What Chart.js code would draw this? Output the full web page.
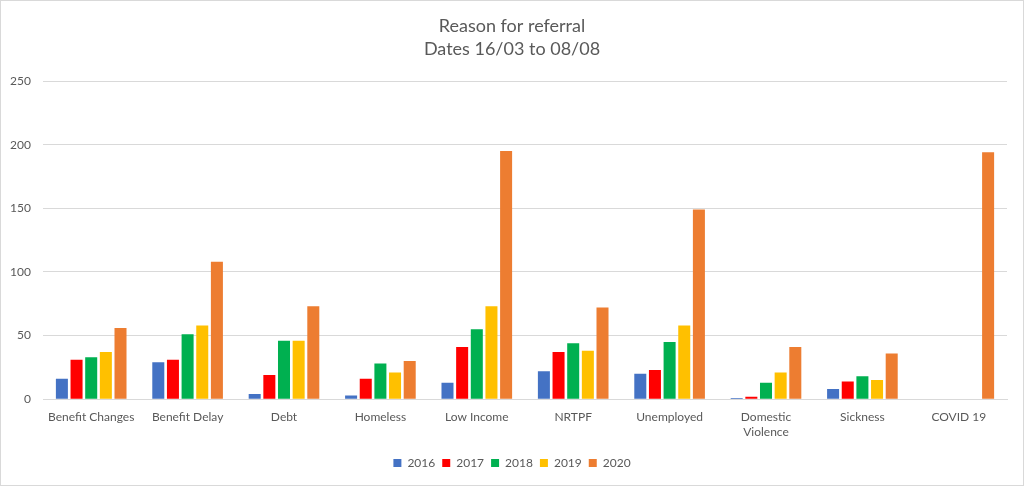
<!DOCTYPE html>
<html>
<head>
<meta charset="utf-8">
<script src="https://cdn.jsdelivr.net/npm/chart.js@4"></script>
<style>
  html, body { margin: 0; padding: 0; background: #fff; }
  .wrap { width: 1022px; height: 484px; border: 1px solid #d9d9d9; position: relative; }
</style>
</head>
<body>
<div class="wrap"><canvas id="refChart"></canvas></div>
<script>
const reasons = ['Benefit Changes', 'Benefit Delay', 'Debt', 'Homeless', 'Low Income', 'NRTPF',
  'Unemployed', ['Domestic', 'Violence'], 'Sickness', 'COVID 19'];

const y2016 = [16, 29, 4, 3, 13, 22, 20, 1, 8, 0];
const y2017 = [31, 31, 19, 16, 41, 37, 23, 2, 14, 0];
const y2018 = [33, 51, 46, 28, 55, 44, 45, 13, 18, 0];
const y2019 = [37, 58, 46, 21, 73, 38, 58, 21, 15, 0];
const y2020 = [56, 108, 73, 30, 195, 72, 149, 41, 36, 194];

const yTicks = [0, 50, 100, 150, 200, 250];

const grey = '#595959';
const font = 'Lato, "Open Sans", sans-serif';

const ctx = document.getElementById('refChart');

// let the y labels spill into the left padding instead of being clipped
const unclipY = {
  id: 'unclipY',
  afterLayout(chart) { chart.scales.y.left = 0; }
};

new Chart(ctx, {
  type: 'bar',
  data: {
    labels: reasons,
    datasets: [
      { label: '2016', data: y2016, backgroundColor: '#4472c4' },
      { label: '2017', data: y2017, backgroundColor: '#ff0000' },
      { label: '2018', data: y2018, backgroundColor: '#00b050' },
      { label: '2019', data: y2019, backgroundColor: '#ffc000' },
      { label: '2020', data: y2020, backgroundColor: '#ed7d31' }
    ]
  },
  plugins: [unclipY],
  options: {
    responsive: true,
    maintainAspectRatio: false,
    animation: false,
    datasets: {
      bar: { categoryPercentage: 0.76, barPercentage: 0.82 }
    },
    layout: { padding: { left: 16, right: 16, top: 0, bottom: 6 } },
    plugins: {
      title: {
        display: true,
        text: ['Reason for referral', 'Dates 16/03 to 08/08'],
        color: grey,
        font: { family: font, size: 18, weight: 'normal', lineHeight: 1.28 },
        padding: { top: 14, bottom: 20 }
      },
      legend: {
        position: 'bottom',
        labels: {
          color: grey,
          font: { family: font, size: 12 },
          boxWidth: 8,
          boxHeight: 8,
          padding: 7
        }
      },
      tooltip: { enabled: false }
    },
    scales: {
      x: {
        afterFit: (scale) => { scale.height = scale.height + 8; },
        grid: { display: false },
        border: { color: '#d9d9d9' },
        ticks: { color: grey, font: { family: font, size: 12 }, maxRotation: 0, autoSkip: false, padding: 3 }
      },
      y: {
        min: 0,
        max: yTicks[yTicks.length - 1],
        afterBuildTicks: (scale) => { scale.ticks = yTicks.map(v => ({ value: v })); },
        afterFit: (scale) => { scale.width = 26; },
        grid: { color: '#d9d9d9', drawTicks: false },
        border: { display: false },
        ticks: { color: grey, font: { family: font, size: 12 }, padding: 12 }
      }
    }
  }
});
</script>
</body>
</html>
